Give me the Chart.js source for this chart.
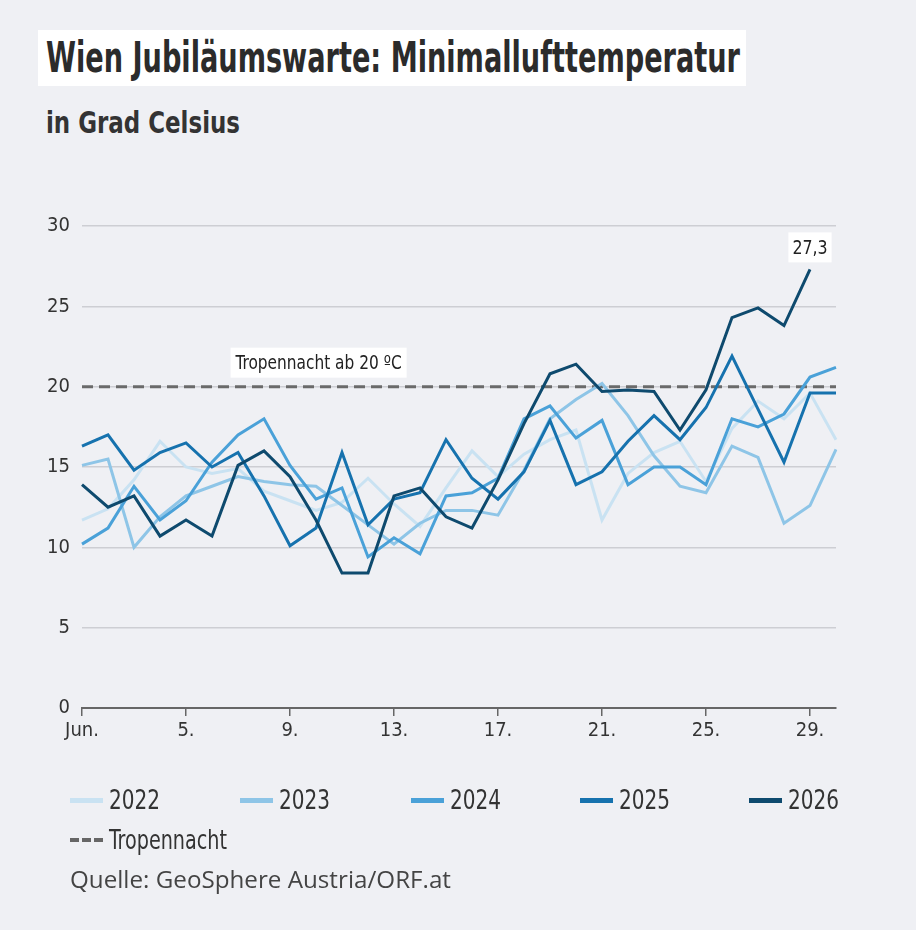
<!DOCTYPE html>
<html lang="de">
<head>
<meta charset="utf-8">
<script src="https://cdn.jsdelivr.net/npm/chart.js@4.4.1/dist/chart.umd.min.js"></script>
<style>
  html, body { margin: 0; padding: 0; background: #fff; }
  #page {
    position: relative; width: 916px; height: 930px; background: #eff0f4;
    overflow: hidden; font-family: "DejaVu Sans Condensed", "DejaVu Sans", sans-serif; color: #2b2b2b;
  }
  .fit { transform-origin: 0 50%; white-space: nowrap; }
  #title { position: absolute; left: 38px; top: 30px; width: 708px; height: 56px; background: #fff; }
  #title span { position: absolute; left: 8px; top: 5px; font-weight: bold; font-size: 42px; line-height: 46px; }
  #subtitle { position: absolute; left: 46px; top: 102px; font-weight: bold; font-size: 31px; line-height: 40px; color: #333; }
  #chart { position: absolute; left: 0; top: 0; }
  .item { position: absolute; height: 30px; font-size: 27px; line-height: 30px; color: #333; white-space: nowrap; }
  .item i { position: absolute; left: 0; top: 13px; width: 33px; height: 5px; }
  .item b { position: absolute; left: 39px; top: 0; font-weight: normal; }
  #source { position: absolute; left: 70px; top: 864px; font-family: "Open Sans", sans-serif; font-size: 23px; line-height: 30px; color: #444; }
</style>
</head>
<body>
<div id="page">
  <div id="title"><span class="fit" data-w="694">Wien Jubiläumswarte: Minimallufttemperatur</span></div>
  <div id="subtitle" class="fit" data-w="194">in Grad Celsius</div>
  <canvas id="chart" width="916" height="930"></canvas>
  <div id="legend"></div>
  <div id="source" class="fit" data-w="381">Quelle: GeoSphere Austria/ORF.at</div>
</div>
<script>
// Tage im Juni
const days = ["1", "2", "3", "4", "5", "6", "7", "8", "9", "10",
  "11", "12", "13", "14", "15", "16", "17", "18", "19", "20",
  "21", "22", "23", "24", "25", "26", "27", "28", "29", "30"];
const tickLabels = ["Jun.", "", "", "", "5.", "", "", "", "9.", "",
  "", "", "13.", "", "", "", "17.", "", "", "",
  "21.", "", "", "", "25.", "", "", "", "29.", ""];

// Minimaltemperaturen
const t2022 = [11.7, 12.4, 14.2, 16.6, 15.0, 14.6, 14.9, 13.5, 12.9, 12.3,
  12.8, 14.3, 12.7, 11.3, 13.7, 16.0, 14.4, 15.8, 16.7, 17.3,
  11.7, 14.6, 15.9, 16.6, 14.1, 17.4, 19.1, 18.0, 19.6, 16.7];
const t2023 = [15.1, 15.5, 10.0, 11.9, 13.2, 13.8, 14.4, 14.1, 13.9, 13.8,
  12.6, 11.4, 10.2, 11.5, 12.3, 12.3, 12.0, 14.8, 18.0, 19.2,
  20.2, 18.2, 15.7, 13.8, 13.4, 16.3, 15.6, 11.5, 12.6, 16.1];
const t2024 = [10.2, 11.2, 13.8, 11.7, 12.9, 15.3, 17.0, 18.0, 15.1, 13.0,
  13.7, 9.4, 10.6, 9.6, 13.2, 13.4, 14.3, 18.0, 18.8, 16.8,
  17.9, 13.9, 15.0, 15.0, 13.9, 18.0, 17.5, 18.3, 20.6, 21.2];
const t2025 = [16.3, 17.0, 14.8, 15.9, 16.5, 15.0, 15.9, 13.2, 10.1, 11.2,
  15.9, 11.4, 13.0, 13.4, 16.7, 14.3, 13.0, 14.7, 17.9, 13.9,
  14.7, 16.6, 18.2, 16.7, 18.7, 21.9, 18.6, 15.3, 19.6, 19.6];
const t2026 = [13.9, 12.5, 13.2, 10.7, 11.7, 10.7, 15.1, 16.0, 14.4, 11.7,
  8.4, 8.4, 13.2, 13.7, 11.9, 11.2, 14.2, 17.7, 20.8, 21.4,
  19.7, 19.8, 19.7, 17.3, 19.8, 24.3, 24.9, 23.8, 27.3, null];

const years = ["2022", "2023", "2024", "2025", "2026"];
const series = [t2022, t2023, t2024, t2025, t2026];
const colors = ["#c9e2f2", "#8ec5e7", "#4aa1d8", "#1672ae", "#0e4a6e"];
const TROPENNACHT = 20;

const FONT = "'DejaVu Sans Condensed', 'DejaVu Sans', sans-serif";

// Text mit weissem Kasten, horizontal gestaucht
function boxLabel(ctx, txt, cx, cy, size, sx, padX) {
  ctx.font = size + "px " + FONT;
  const tw = ctx.measureText(txt).width * sx;
  const w = tw + padX * 2;
  ctx.fillStyle = "#fff";
  ctx.fillRect(cx - w / 2, cy - 15, w, 30);
  ctx.save();
  ctx.translate(cx, cy + 1);
  ctx.scale(sx, 1);
  ctx.fillStyle = "#222";
  ctx.textAlign = "center";
  ctx.textBaseline = "middle";
  ctx.fillText(txt, 0, 0);
  ctx.restore();
}

// gestrichelte Linie + Beschriftungen
const annot = {
  id: "annot",
  beforeDatasetsDraw(chart) {
    const { ctx, chartArea: a, scales: { y } } = chart;
    const yy = y.getPixelForValue(TROPENNACHT);
    ctx.save();
    ctx.strokeStyle = "#6a6a6a";
    ctx.lineWidth = 3;
    ctx.setLineDash([11, 6]);
    ctx.beginPath();
    ctx.moveTo(a.left, yy);
    ctx.lineTo(a.right, yy);
    ctx.stroke();
    ctx.restore();
  },
  afterDatasetsDraw(chart) {
    const { ctx, scales: { x, y } } = chart;
    ctx.save();
    boxLabel(ctx, "Tropennacht ab 20 ºC", x.getPixelForValue(9.1),
      y.getPixelForValue(TROPENNACHT) - 24, 19, 0.9, 5);

    // letzter Wert 2026
    const last = t2026.reduce((k, v, i) => (v !== null ? i : k), 0);
    boxLabel(ctx, String(t2026[last]).replace(".", ","), x.getPixelForValue(last),
      y.getPixelForValue(t2026[last]) - 22, 20, 0.88, 4);
    ctx.restore();
  }
};

new Chart(document.getElementById("chart"), {
  type: "line",
  data: {
    labels: days,
    datasets: years.map((yr, i) => ({
      label: yr,
      data: series[i],
      borderColor: colors[i],
      borderWidth: 3,
      pointRadius: 0,
      tension: 0,
      borderJoinStyle: "miter",
      order: years.length - i
    }))
  },
  options: {
    responsive: false,
    animation: false,
    events: [],
    layout: { padding: { top: 226, right: 80, left: 0, bottom: 0 } },
    plugins: { legend: { display: false }, tooltip: { enabled: false } },
    scales: {
      x: {
        offset: false,
        grid: {
          drawOnChartArea: false,
          drawTicks: true,
          tickLength: 8,
          lineWidth: 1.5,
          color: (c) => (tickLabels[c.index] ? "#666" : "transparent")
        },
        border: { color: "#666", width: 2 },
        ticks: {
          autoSkip: false,
          maxRotation: 0,
          padding: 3,
          color: "#333",
          font: { family: FONT, size: 20 },
          callback: (v, i) => tickLabels[i]
        },
        afterFit: (s) => { s.height = 930 - 708; }
      },
      y: {
        min: 0,
        max: 30,
        border: { display: false },
        grid: {
          drawTicks: false,
          lineWidth: 1.5,
          color: (c) => (c.tick.value === 0 ? "transparent" : "#cdced3")
        },
        ticks: {
          stepSize: 5,
          padding: 12,
          color: "#333",
          font: { family: FONT, size: 20 }
        },
        afterFit: (s) => { s.width = 82; }
      }
    }
  },
  plugins: [annot]
});

// Legende
const legend = document.getElementById("legend");
const legendX = [70, 240, 411, 580, 749];
years.forEach((yr, i) => {
  const d = document.createElement("div");
  d.className = "item";
  d.style.left = legendX[i] + "px";
  d.style.top = "785px";
  d.innerHTML = `<i style="background:${colors[i]}"></i><b class="fit" data-w="51">${yr}</b>`;
  legend.appendChild(d);
});
const tn = document.createElement("div");
tn.className = "item";
tn.style.left = "70px";
tn.style.top = "825px";
tn.innerHTML = '<i style="height:4px;background:repeating-linear-gradient(to right,#666 0 9px,transparent 9px 12px)"></i><b class="fit" data-w="118">Tropennacht</b>';
legend.appendChild(tn);

// schmale Schrift nachbilden: Texte auf Breite stauchen
document.querySelectorAll(".fit").forEach((el) => {
  const w = el.getBoundingClientRect().width;
  el.style.transform = `scaleX(${el.dataset.w / w})`;
});
</script>
</body>
</html>
